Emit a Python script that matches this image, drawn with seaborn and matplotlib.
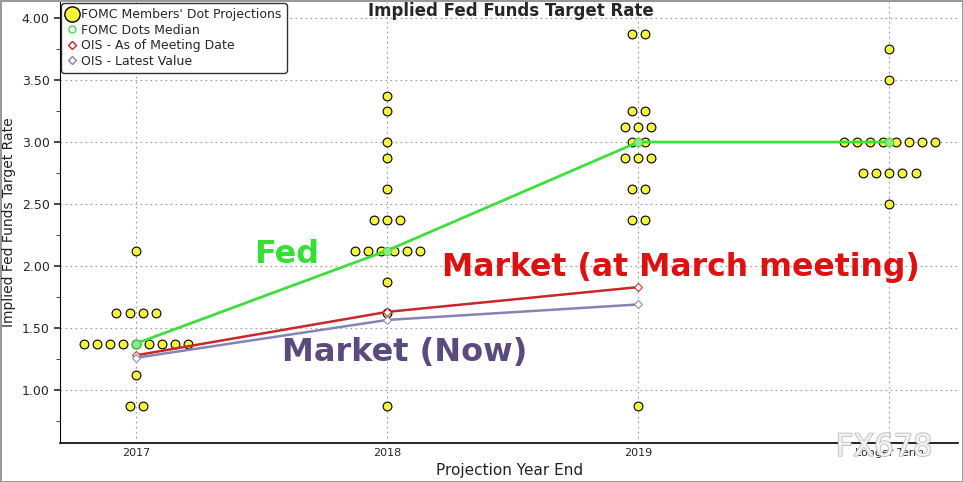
import numpy as np
import pandas as pd
import matplotlib.pyplot as plt
from matplotlib.lines import Line2D
from matplotlib.ticker import MultipleLocator, FormatStrFormatter
import matplotlib.patheffects as pe
import seaborn as sns

years = ["2017", "2018", "2019", "Longer Term"]

# FOMC dot plot: rate levels and number of members at each level
rates_2017 = [2.125, 1.625, 1.375, 1.125, 0.875]
counts_2017 = [1, 4, 9, 1, 2]
rates_2018 = [3.375, 3.25, 3.0, 2.875, 2.625, 2.375, 2.125, 1.875, 1.625, 0.875]
counts_2018 = [1, 1, 1, 1, 1, 3, 6, 1, 1, 1]
rates_2019 = [3.875, 3.25, 3.125, 3.0, 2.875, 2.625, 2.375, 0.875]
counts_2019 = [2, 2, 3, 2, 3, 2, 2, 1]
rates_lt = [3.75, 3.5, 3.0, 2.75, 2.5]
counts_lt = [1, 1, 8, 5, 1]

median_rates = [1.375, 2.125, 3.0, 3.0]
ois_meeting = [1.28, 1.63, 1.83]
ois_latest = [1.26, 1.565, 1.69]

spacing = 0.052
rows = []
for i, (rs, cs) in enumerate([(rates_2017, counts_2017), (rates_2018, counts_2018),
                              (rates_2019, counts_2019), (rates_lt, counts_lt)]):
    for r, n in zip(rs, cs):
        for k in range(n):
            rows.append({"x": i + (k - (n - 1) / 2) * spacing, "rate": r})
dots = pd.DataFrame(rows)

sns.set_style("white")
plt.rcParams['font.family'] = ['DejaVu Sans']

fig = plt.figure(figsize=(9.63, 4.82), dpi=100)
ax = fig.add_axes([0.0623, 0.081, 0.933, 0.915])

sns.scatterplot(data=dots, x="x", y="rate", color="#F5F53C", edgecolor="black",
                s=40, linewidth=0.8, ax=ax, zorder=3, legend=False)

sns.lineplot(x=list(range(4)), y=median_rates, color="#3BE03B", lw=2, marker="o",
             markersize=6, markerfacecolor="#8FE88F", markeredgecolor="#3BE03B",
             ax=ax, zorder=4)
sns.lineplot(x=list(range(3)), y=ois_meeting, color="#C8282A", lw=1.8, marker="D",
             markersize=4, markerfacecolor="white", markeredgecolor="#C8282A",
             ax=ax, zorder=4)
sns.lineplot(x=list(range(3)), y=ois_latest, color="#8484B4", lw=1.8, marker="D",
             markersize=4, markerfacecolor="white", markeredgecolor="#8484B4",
             ax=ax, zorder=4)

ax.set_xlim(-0.303, 3.275)
ax.set_ylim(0.573, 4.13)
ax.set_xticks(range(4))
ax.set_xticklabels(years, fontsize=8)
ax.yaxis.set_major_locator(MultipleLocator(0.5))
ax.yaxis.set_minor_locator(MultipleLocator(0.25))
ax.yaxis.set_major_formatter(FormatStrFormatter("%.2f"))
ax.tick_params(axis="y", which="major", labelsize=9, direction="out", length=4, width=1.2, left=True)
ax.tick_params(axis="y", which="minor", direction="out", length=3, left=True)
ax.tick_params(axis="x", length=0)
ax.grid(True, linestyle=(0, (1.5, 3)), color="#999999", linewidth=0.8)
for s in ["top", "right"]:
    ax.spines[s].set_visible(False)
ax.spines["left"].set_color("black")
ax.spines["bottom"].set_color("black")
ax.spines["bottom"].set_linewidth(1.2)

ax.set_xlabel("Projection Year End", fontsize=11, color="#222222")
ax.set_ylabel("Implied Fed Funds Target Rate", fontsize=10, color="#222222")
fig.text(0.53, 0.977, "Implied Fed Funds Target Rate", ha="center", va="center",
         fontsize=12, fontweight="bold")

ax.text(0.47, 2.09, "Fed", color="#33E033", fontsize=23, fontweight="bold", ha="left", va="center")
ax.text(1.22, 1.99, "Market (at March meeting)", color="#E01010", fontsize=22.7,
        fontweight="bold", ha="left", va="center")
ax.text(0.58, 1.30, "Market (Now)", color="#5A4A7E", fontsize=23, fontweight="bold",
        ha="left", va="center")
fig.text(0.918, 0.072, "FX678", color="#F2F2F2", fontsize=22, ha="center", va="center",
         zorder=1, path_effects=[pe.withStroke(linewidth=1.2, foreground="#BBBBBB")])

handles = [
    Line2D([], [], marker="o", ls="", markersize=11, markerfacecolor="#F5F53C", markeredgecolor="black"),
    Line2D([], [], marker="o", ls="", markersize=5, markerfacecolor="white", markeredgecolor="#3BE03B"),
    Line2D([], [], marker="D", ls="", markersize=4, markerfacecolor="white", markeredgecolor="#C8282A"),
    Line2D([], [], marker="D", ls="", markersize=4, markerfacecolor="white", markeredgecolor="#8484B4"),
]
labels = ["FOMC Members' Dot Projections", "FOMC Dots Median",
          "OIS - As of Meeting Date", "OIS - Latest Value"]
leg = ax.legend(handles, labels, loc="upper left", bbox_to_anchor=(0.0, 1.0), fontsize=9,
                frameon=True, fancybox=True, edgecolor="black", handletextpad=0.2,
                handlelength=1.0, labelspacing=0.2, borderpad=0.4, borderaxespad=0.1)
leg.get_frame().set_linewidth(1.0)
leg.set_zorder(6)

fig.patch.set_edgecolor("#999999")
fig.patch.set_linewidth(2)
fig.savefig("out.png", dpi=100, edgecolor=fig.get_edgecolor())
